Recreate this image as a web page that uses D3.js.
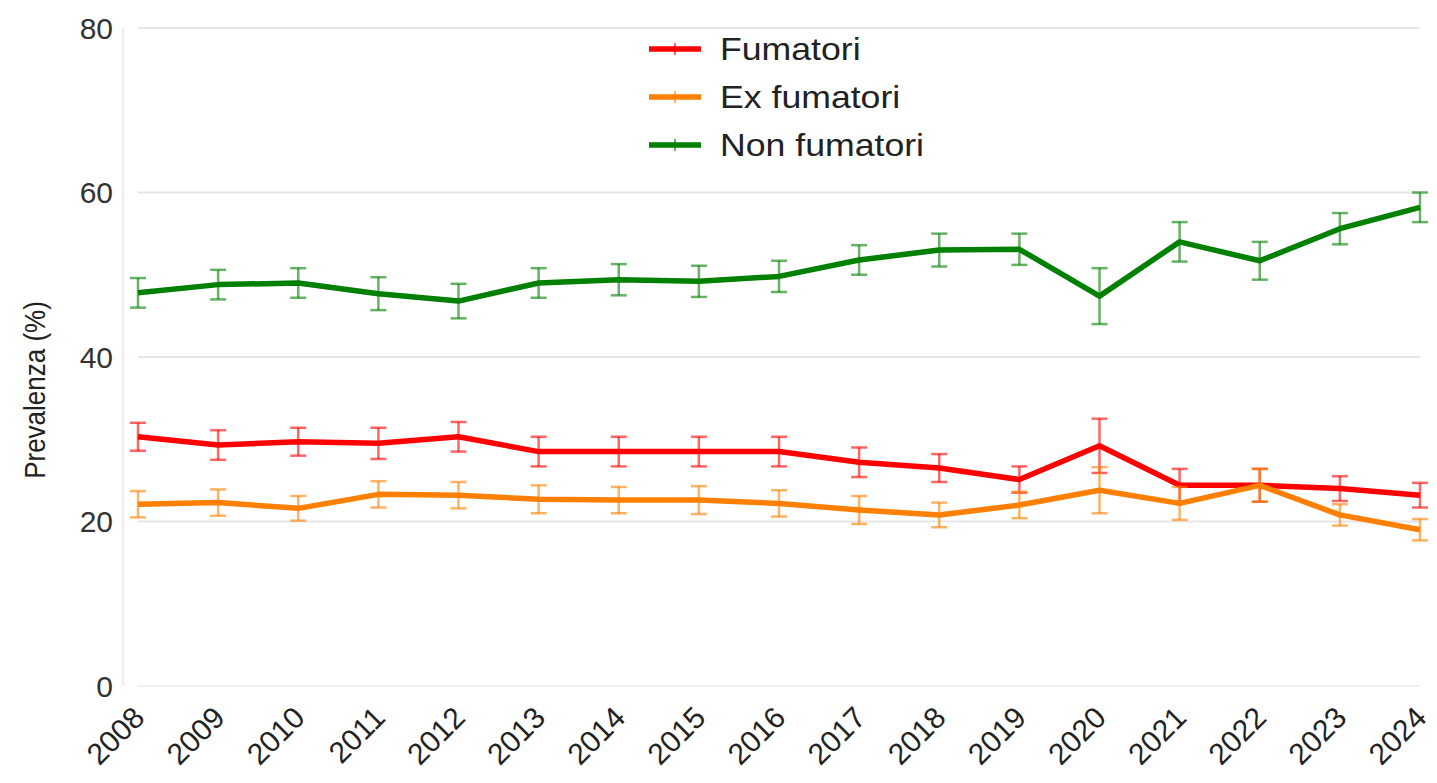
<!DOCTYPE html>
<html>
<head>
<meta charset="utf-8">
<script src="https://cdn.jsdelivr.net/npm/d3@7"></script>
<style>
body {margin:0; background:#fff}
svg {font-family:"Liberation Sans", Arial, sans-serif}
</style>
</head>
<body>
<svg id="chart" width="1437" height="783"></svg>
<script>
/*** Data ***/
var years = [2008,2009,2010,2011,2012,2013,2014,2015,2016,2017,2018,2019,2020,2021,2022,2023,2024]
var yTicks = [0,20,40,60,80]

var fumatori    = [30.3,29.3,29.7,29.5,30.3,28.5,28.5,28.5,28.5,27.2,26.5,25.1,29.2,24.4,24.4,24.0,23.2]
var fumatoriCi  = [1.7,1.8,1.7,1.9,1.8,1.8,1.8,1.8,1.8,1.8,1.7,1.6,3.3,2.0,2.0,1.5,1.5]
var exFumatori  = [22.1,22.3,21.6,23.3,23.2,22.7,22.6,22.6,22.2,21.4,20.8,22.0,23.8,22.2,24.4,20.8,19.0]
var exFumatoriCi= [1.6,1.6,1.5,1.6,1.6,1.7,1.6,1.7,1.6,1.7,1.5,1.6,2.8,2.0,2.0,1.3,1.3]
var nonFumatori = [47.8,48.8,49.0,47.7,46.8,49.0,49.4,49.2,49.8,51.8,53.0,53.1,47.4,54.0,51.7,55.6,58.2]
var nonFumCi    = [1.8,1.8,1.8,2.0,2.1,1.8,1.9,1.9,1.9,1.8,2.0,1.9,3.4,2.4,2.3,1.9,1.8]

var names  = ["Fumatori","Ex fumatori","Non fumatori"]
var colors = ["#ff0000","#ff8000","#008000"]

var series = [
	{name: names[0], color: colors[0], values: fumatori,    ci: fumatoriCi},
	{name: names[1], color: colors[1], values: exFumatori,  ci: exFumatoriCi},
	{name: names[2], color: colors[2], values: nonFumatori, ci: nonFumCi}
]

/*** Draw ***/
var m = d3.select("#chart")
var x = d3.scaleLinear().domain([2008, 2024]).range([138, 1420])
var y = d3.scaleLinear().domain([0, 80]).range([686, 28])

// y axis faint bar
m.append("line")
 .attr("x1", 123).attr("x2", 123)
 .attr("y1", y(80)).attr("y2", y(0))
 .attr("stroke", "#f0f0f0").attr("stroke-width", 3)

// grid
var g = m.append("g")
g.selectAll("line")
 .data(yTicks)
 .enter()
 .append("line")
 .attr("x1", x(2008)).attr("x2", x(2024))
 .attr("y1", (d) => y(d)).attr("y2", (d) => y(d))
 .attr("stroke", (d) => d == 0 ? "#f0f0f0" : "#e6e6e6")
 .attr("stroke-width", 2)

// y labels
m.append("g")
 .selectAll("text")
 .data(yTicks)
 .enter()
 .append("text")
 .attr("x", 113)
 .attr("y", (d) => y(d))
 .attr("dy", "0.36em")
 .attr("text-anchor", "end")
 .attr("font-size", 30)
 .attr("fill", "#333")
 .text((d) => d)

// x labels
m.append("g")
 .selectAll("text")
 .data(years)
 .enter()
 .append("text")
 .attr("transform", (d) => "translate(" + (x(d) + 1) + ",712) rotate(-45)")
 .attr("text-anchor", "end")
 .attr("dy", "0.35em")
 .attr("font-size", 30)
 .attr("fill", "#222")
 .text((d) => d)

// y title
m.append("text")
 .attr("transform", "translate(45,390) scale(1.15,1) rotate(-90)")
 .attr("text-anchor", "middle")
 .attr("font-size", 26)
 .attr("fill", "#222")
 .text("Prevalenza (%)")

// series
var line = d3.line()
	.x((d, i) => x(years[i]))
	.y((d) => y(d))

series.forEach((s) => {
	var sg = m.append("g")
	sg.append("path")
	  .datum(s.values)
	  .attr("d", line)
	  .attr("fill", "none")
	  .attr("stroke", s.color)
	  .attr("stroke-width", 5.5)
	  .attr("stroke-linejoin", "round")
	var eb = sg.append("g")
	  .attr("stroke", s.color)
	  .attr("stroke-opacity", 0.6)
	  .attr("stroke-width", 2.5)
	  .selectAll("g")
	  .data(s.values)
	  .enter()
	  .append("g")
	eb.append("line")
	  .attr("x1", (d, i) => x(years[i])).attr("x2", (d, i) => x(years[i]))
	  .attr("y1", (d, i) => y(d + s.ci[i])).attr("y2", (d, i) => y(d - s.ci[i]))
	eb.append("line")
	  .attr("x1", (d, i) => x(years[i]) - 8).attr("x2", (d, i) => x(years[i]) + 8)
	  .attr("y1", (d, i) => y(d + s.ci[i])).attr("y2", (d, i) => y(d + s.ci[i]))
	eb.append("line")
	  .attr("x1", (d, i) => x(years[i]) - 8).attr("x2", (d, i) => x(years[i]) + 8)
	  .attr("y1", (d, i) => y(d - s.ci[i])).attr("y2", (d, i) => y(d - s.ci[i]))
})

// legend
var lg = m.append("g")
	.selectAll("g")
	.data(series)
	.enter()
	.append("g")
	.attr("transform", (d, i) => "translate(649," + (49 + i * 48) + ")")
lg.append("line")
  .attr("x1", 0).attr("x2", 52)
  .attr("stroke", (d) => d.color).attr("stroke-width", 5.5)
lg.append("line")
  .attr("x1", 26).attr("x2", 26).attr("y1", -6).attr("y2", 6)
  .attr("stroke", (d) => d.color).attr("stroke-width", 2).attr("stroke-opacity", 0.6)
lg.append("text")
  .attr("transform", "translate(71,0) scale(1.15,1)")
  .attr("dy", "0.36em")
  .attr("font-size", 31)
  .attr("fill", "#222")
  .text((d) => d.name)
</script>
</body>
</html>
